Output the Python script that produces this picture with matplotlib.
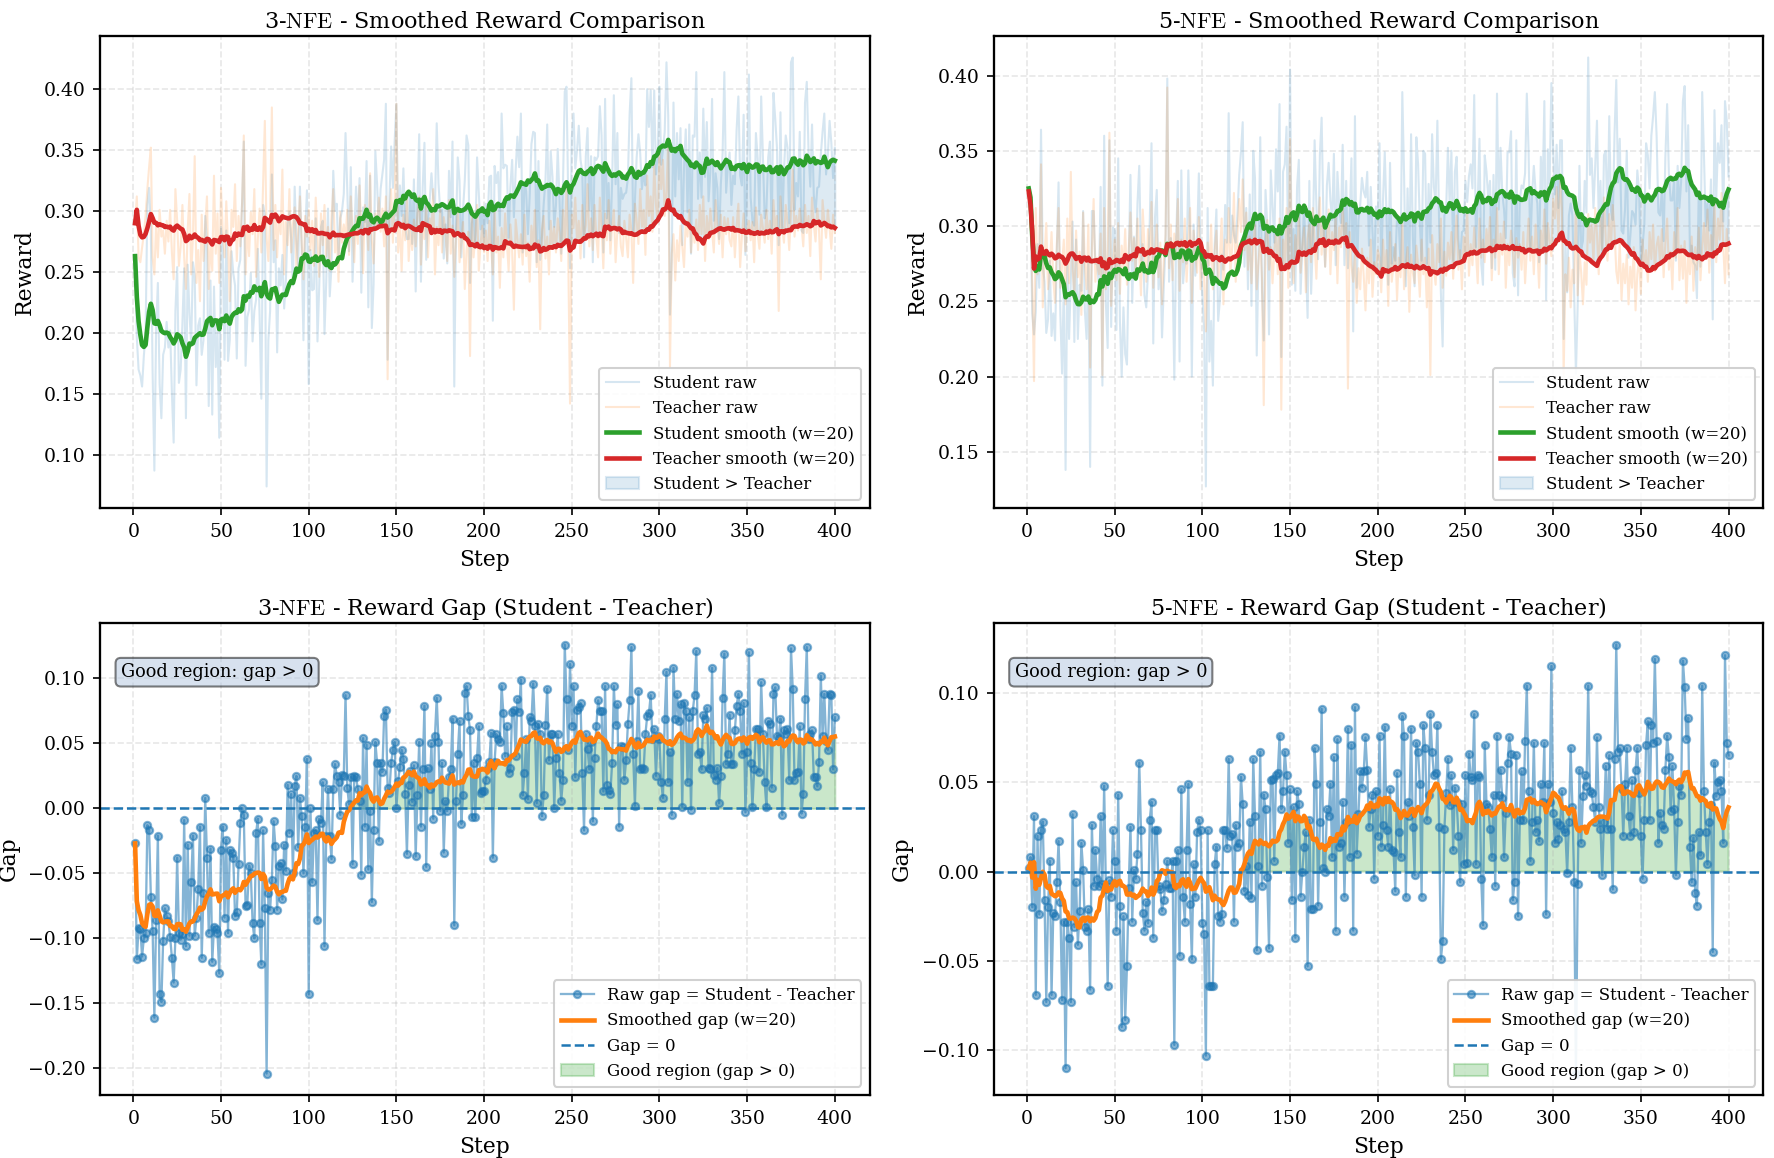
import numpy as np
import pandas as pd
import matplotlib
matplotlib.use("Agg")
import matplotlib.pyplot as plt

plt.rcParams["font.family"] = "serif"
plt.rcParams["mathtext.fontset"] = "cm"

WINDOW = 20

# raw teacher reward per step
teacher_3nfe = [
    0.290, 0.312, 0.262, 0.258, 0.270, 0.281, 0.296, 0.318, 0.336, 0.352, 0.262, 0.248, 0.289, 0.262, 0.301, 0.279, 0.284, 0.265, 0.292, 0.275,
    0.301, 0.266, 0.244, 0.318, 0.292, 0.255, 0.271, 0.305, 0.262, 0.236, 0.284, 0.314, 0.248, 0.279, 0.345, 0.241, 0.268, 0.226, 0.297, 0.259,
    0.288, 0.312, 0.236, 0.274, 0.251, 0.329, 0.265, 0.298, 0.241, 0.319, 0.283, 0.262, 0.308, 0.273, 0.226, 0.301, 0.287, 0.322, 0.259, 0.296,
    0.271, 0.306, 0.362, 0.248, 0.287, 0.263, 0.299, 0.281, 0.318, 0.246, 0.277, 0.302, 0.266, 0.322, 0.374, 0.278, 0.259, 0.296, 0.385, 0.268,
    0.305, 0.262, 0.297, 0.281, 0.334, 0.248, 0.291, 0.272, 0.318, 0.266, 0.289, 0.303, 0.251, 0.284, 0.312, 0.275, 0.244, 0.296, 0.279, 0.301,
    0.268, 0.292, 0.255, 0.311, 0.279, 0.246, 0.298, 0.272, 0.305, 0.263, 0.287, 0.251, 0.294, 0.318, 0.266, 0.281, 0.242, 0.299, 0.274, 0.289,
    0.277, 0.301, 0.264, 0.312, 0.285, 0.258, 0.296, 0.273, 0.321, 0.284, 0.249, 0.305, 0.292, 0.268, 0.331, 0.276, 0.257, 0.298, 0.287, 0.311,
    0.283, 0.302, 0.271, 0.312, 0.162, 0.295, 0.318, 0.274, 0.306, 0.388, 0.266, 0.289, 0.251, 0.297, 0.276, 0.312, 0.259, 0.284, 0.268, 0.293,
    0.271, 0.298, 0.312, 0.256, 0.289, 0.277, 0.305, 0.262, 0.294, 0.281, 0.318, 0.248, 0.287, 0.272, 0.301, 0.266, 0.295, 0.283, 0.259, 0.309,
    0.265, 0.288, 0.246, 0.279, 0.302, 0.258, 0.274, 0.291, 0.236, 0.268, 0.283, 0.181, 0.297, 0.262, 0.279, 0.305, 0.251, 0.273, 0.288, 0.266,
    0.284, 0.259, 0.292, 0.271, 0.248, 0.301, 0.266, 0.279, 0.237, 0.286, 0.262, 0.298, 0.274, 0.251, 0.289, 0.268, 0.219, 0.293, 0.277, 0.262,
    0.281, 0.256, 0.297, 0.263, 0.274, 0.242, 0.288, 0.269, 0.301, 0.254, 0.276, 0.203, 0.285, 0.296, 0.261, 0.279, 0.248, 0.292, 0.271, 0.287,
    0.266, 0.294, 0.283, 0.259, 0.301, 0.272, 0.318, 0.264, 0.142, 0.297, 0.286, 0.311, 0.274, 0.292, 0.261, 0.305, 0.279, 0.288, 0.322, 0.271,
    0.294, 0.268, 0.305, 0.279, 0.262, 0.311, 0.287, 0.253, 0.298, 0.276, 0.309, 0.265, 0.288, 0.301, 0.258, 0.284, 0.296, 0.271, 0.263, 0.292,
    0.278, 0.262, 0.297, 0.285, 0.241, 0.306, 0.292, 0.273, 0.318, 0.287, 0.301, 0.264, 0.329, 0.296, 0.312, 0.283, 0.338, 0.305, 0.291, 0.349,
    0.318, 0.342, 0.296, 0.317, 0.358, 0.172, 0.265, 0.281, 0.243, 0.276, 0.259, 0.288, 0.271, 0.254, 0.292, 0.279, 0.301, 0.266, 0.287, 0.274,
    0.293, 0.268, 0.305, 0.281, 0.312, 0.259, 0.296, 0.277, 0.302, 0.284, 0.266, 0.309, 0.288, 0.273, 0.297, 0.262, 0.295, 0.281, 0.294, 0.276,
    0.271, 0.295, 0.262, 0.288, 0.306, 0.254, 0.279, 0.298, 0.267, 0.285, 0.292, 0.276, 0.291, 0.258, 0.303, 0.282, 0.269, 0.297, 0.286, 0.274,
    0.301, 0.277, 0.292, 0.265, 0.309, 0.283, 0.296, 0.218, 0.312, 0.287, 0.274, 0.305, 0.291, 0.268, 0.299, 0.334, 0.279, 0.296, 0.284, 0.302,
    0.288, 0.271, 0.305, 0.282, 0.296, 0.263, 0.311, 0.289, 0.275, 0.302, 0.284, 0.244, 0.309, 0.292, 0.278, 0.301, 0.286, 0.269, 0.297, 0.282,
]

# raw gap (student - teacher) per step
gap_3nfe = [
    -0.027, -0.116, -0.092, -0.093, -0.114, -0.100, -0.096, -0.013, -0.017, -0.068, -0.094, -0.161, -0.086, -0.021, -0.143, -0.149, -0.102, -0.077, -0.083, -0.087,
    -0.099, -0.115, -0.134, -0.100, -0.038, -0.096, -0.101, -0.097, -0.009, -0.106, -0.028, -0.098, -0.057, -0.021, -0.098, -0.084, -0.062, -0.014, -0.115, -0.065,
    0.008, -0.038, -0.096, -0.031, -0.118, -0.091, -0.093, -0.096, -0.127, -0.032, -0.014, -0.084, -0.024, -0.096, -0.032, -0.034, -0.038, -0.083, -0.080, -0.043,
    -0.011, 0.000, -0.005, -0.075, -0.074, -0.044, -0.050, -0.088, -0.100, -0.019, -0.008, -0.088, -0.120, -0.017, -0.077, -0.204, -0.065, -0.078, -0.055, -0.010,
    -0.029, -0.078, -0.044, -0.042, -0.070, -0.028, -0.048, 0.018, -0.019, 0.011, -0.050, 0.017, 0.025, -0.030, 0.008, -0.006, -0.050, -0.014, 0.038, -0.143,
    0.000, -0.057, -0.019, -0.017, -0.086, -0.008, -0.011, 0.020, -0.106, -0.021, 0.015, -0.021, -0.039, 0.015, 0.034, 0.025, 0.020, -0.005, 0.026, 0.025,
    0.087, 0.016, 0.003, 0.024, -0.043, 0.025, 0.024, 0.015, 0.006, -0.051, 0.054, -0.014, 0.049,
    -0.047, -0.002, -0.072, -0.017, 0.051, 0.035, -0.025, 0.035, 0.028, 0.071, 0.076, 0.016, 0.012, 0.035, 0.045, 0.051, 0.000, 0.021, 0.032, 0.045,
    0.038, 0.011, -0.035, 0.018, 0.029, 0.005, 0.033, -0.037, 0.010, 0.051, -0.014, 0.030, 0.079, -0.045, 0.031, 0.015, 0.050, -0.008, 0.056, 0.085,
    0.051, -0.002, 0.035, -0.034, 0.006, -0.002, 0.024, 0.030, 0.069, -0.090, 0.006, 0.042, 0.067, -0.012, 0.010, 0.089, 0.094, 0.071, 0.060, -0.007,
    0.035, -0.007, 0.039, 0.063, 0.012, 0.013, 0.013, 0.022, 0.031, 0.036, 0.058, -0.038, 0.036, 0.057, 0.053, 0.051, 0.094, 0.073, 0.040, 0.063,
    0.027, 0.031, 0.074, 0.076, 0.040, 0.084, 0.074, 0.099, 0.010, 0.027, 0.053, 0.007, 0.070, 0.067, 0.096, 0.063, 0.004, 0.065, 0.057, -0.006,
    0.010, 0.064, 0.092, 0.037, 0.057, 0.057, 0.000, 0.039, 0.057, 0.027, 0.006, 0.022, 0.126, 0.084, 0.045, 0.111, 0.063, 0.094, 0.024, 0.076,
    0.078, 0.081, 0.027, -0.017, 0.057, 0.046, 0.030, 0.051, -0.010, 0.039, 0.063, 0.083, 0.075, 0.075, 0.013, 0.094,
    0.018, 0.014, 0.011, 0.035, 0.094, 0.064, 0.080, -0.014, 0.048, 0.047, 0.022, 0.037, 0.065, 0.083, 0.124, 0.042, 0.002, 0.052, 0.090, 0.030,
    0.031, 0.030, 0.057, 0.071, 0.073, 0.087, 0.053, 0.061, 0.025, 0.056, 0.053, 0.020, 0.008, 0.069, 0.105, 0.020, 0.043, -0.005, 0.108, 0.069,
    0.088, 0.067, 0.080, 0.001, 0.081, 0.075, 0.020, 0.070, -0.001, 0.075, 0.087, 0.121, 0.042, 0.043, 0.030, 0.072, 0.069, 0.077, 0.031, 0.030,
    0.108, 0.026, 0.022, 0.031, 0.004, 0.025, 0.085, 0.119, 0.034, 0.042, 0.072, 0.034, 0.034, 0.060, 0.079, 0.088, 0.075, 0.042, 0.081, -0.003,
    0.043, 0.120, 0.035, 0.001, 0.030, 0.061, 0.061, 0.028, 0.097, 0.057, 0.020, 0.001, 0.067, 0.065, 0.016, 0.088, 0.093, 0.056, 0.054, 0.069,
    -0.005, 0.060, 0.057, 0.061, 0.022, 0.123, 0.092, 0.022, 0.027, 0.028, 0.063, -0.004, 0.011, 0.084, 0.124, 0.053, 0.057, 0.060, 0.024, 0.024,
    0.017, 0.036, 0.102, 0.056, 0.088, 0.052, 0.045, 0.088, 0.087, 0.030, 0.070,
]

teacher_5nfe = [
    0.323, 0.305, 0.262, 0.197, 0.312, 0.268, 0.283, 0.341, 0.246, 0.279, 0.302, 0.258, 0.271, 0.296, 0.265, 0.249, 0.288, 0.312, 0.259, 0.274,
    0.291, 0.248, 0.305, 0.262, 0.336, 0.271, 0.254, 0.297, 0.266, 0.283, 0.241, 0.309, 0.275, 0.258, 0.301, 0.206, 0.284, 0.318, 0.263, 0.279,
    0.268, 0.295, 0.201, 0.312, 0.258, 0.283, 0.362, 0.247, 0.276, 0.291, 0.264, 0.302, 0.255, 0.287, 0.271, 0.298, 0.261, 0.284, 0.309, 0.277,
    0.292, 0.268, 0.305, 0.279, 0.254, 0.311, 0.287, 0.263, 0.298, 0.274, 0.316, 0.259, 0.283, 0.301, 0.266, 0.289, 0.248, 0.276, 0.294, 0.392,
    0.272, 0.301, 0.264, 0.295, 0.282, 0.318, 0.257, 0.291, 0.276, 0.305, 0.263, 0.288, 0.312, 0.249, 0.297, 0.281, 0.269, 0.306, 0.258, 0.284,
    0.266, 0.230, 0.289, 0.274, 0.301, 0.258, 0.283, 0.297, 0.262, 0.279, 0.305, 0.248, 0.291, 0.276, 0.312, 0.269, 0.286, 0.322, 0.263, 0.294,
    0.318, 0.296, 0.331, 0.284, 0.309, 0.271, 0.293, 0.262, 0.287, 0.301, 0.258, 0.276, 0.292, 0.265, 0.181, 0.289, 0.304, 0.271, 0.286, 0.262,
    0.283, 0.297, 0.268, 0.305, 0.178, 0.291, 0.274, 0.312, 0.259, 0.358, 0.277, 0.262, 0.294, 0.281, 0.306, 0.269, 0.287, 0.299, 0.256, 0.292,
    0.301, 0.276, 0.312, 0.288, 0.265, 0.297, 0.319, 0.281, 0.304, 0.273, 0.292, 0.311, 0.268, 0.296, 0.284, 0.307, 0.262, 0.299, 0.286, 0.315,
    0.288, 0.302, 0.192, 0.296, 0.274, 0.263, 0.281, 0.249, 0.272, 0.258, 0.285, 0.267, 0.244, 0.279, 0.262, 0.291, 0.253, 0.276, 0.268, 0.284,
    0.279, 0.256, 0.291, 0.268, 0.284, 0.247, 0.296, 0.263, 0.275, 0.288, 0.251, 0.279, 0.266, 0.302, 0.258, 0.274, 0.286, 0.243, 0.281, 0.269,
    0.262, 0.287, 0.274, 0.253, 0.291, 0.268, 0.279, 0.246, 0.285, 0.201, 0.294, 0.272, 0.261, 0.288, 0.276, 0.305, 0.259, 0.283, 0.267, 0.289,
    0.278, 0.296, 0.265, 0.289, 0.307, 0.271, 0.284, 0.258, 0.293, 0.276, 0.311, 0.267, 0.288, 0.274, 0.299, 0.282, 0.262, 0.305, 0.279, 0.291,
    0.276, 0.298, 0.283, 0.306, 0.264, 0.291, 0.279, 0.312, 0.268, 0.295, 0.281, 0.303, 0.259, 0.288, 0.274, 0.297, 0.285, 0.266, 0.292, 0.279,
    0.288, 0.271, 0.296, 0.262, 0.284, 0.305, 0.277, 0.293, 0.268, 0.301, 0.286, 0.259, 0.297, 0.282, 0.311, 0.275, 0.302, 0.289, 0.280, 0.318,
    0.305, 0.326, 0.294, 0.331, 0.312, 0.201, 0.268, 0.257, 0.279, 0.246, 0.271, 0.262, 0.315, 0.254, 0.283, 0.269, 0.248, 0.276, 0.261, 0.308,
    0.289, 0.301, 0.276, 0.312, 0.295, 0.268, 0.306, 0.284, 0.319, 0.291, 0.277, 0.308, 0.286, 0.314, 0.298, 0.270, 0.262, 0.289, 0.251, 0.275,
    0.262, 0.281, 0.248, 0.273, 0.259, 0.286, 0.244, 0.268, 0.279, 0.255, 0.291, 0.272, 0.284, 0.263, 0.296, 0.278, 0.301, 0.270, 0.287, 0.293,
    0.274, 0.298, 0.266, 0.289, 0.305, 0.271, 0.283, 0.258, 0.296, 0.279, 0.312, 0.264, 0.287, 0.265, 0.290, 0.249, 0.281, 0.268, 0.293, 0.257,
    0.286, 0.271, 0.299, 0.264, 0.285, 0.302, 0.278, 0.311, 0.269, 0.294, 0.283, 0.316, 0.276, 0.305, 0.291, 0.322, 0.287, 0.262, 0.298, 0.268,
]

gap_5nfe = [
    0.002, 0.008, -0.020, 0.031, -0.069, 0.020, -0.024, 0.023, 0.028, -0.016, -0.073, -0.020, 0.006, -0.069, -0.023, -0.025, -0.006, 0.017, -0.017, -0.072,
    -0.028, -0.110, -0.028, -0.037, -0.073, 0.032, -0.031, -0.006, -0.041, -0.022, 0.016, 0.001, -0.031, -0.033, -0.021, -0.066, 0.026, -0.008, 0.012, -0.004,
    -0.008, 0.031, -0.007, 0.048, -0.010, -0.064, -0.005, -0.014, 0.023, 0.006, -0.033, 0.043, -0.019, -0.087, -0.025, -0.083, -0.053, -0.009, 0.025, -0.028,
    0.001, -0.004, 0.010, 0.061, 0.023, -0.023, -0.033, -0.017, -0.029, 0.029, 0.039, -0.037, 0.023, 0.023, -0.008, -0.010, -0.022, -0.016, -0.007, 0.006,
    -0.009, -0.009, 0.006, -0.097, 0.006, 0.012, -0.047, 0.046, -0.014, -0.028, 0.012, 0.049, -0.018, -0.049, 0.004, -0.014, 0.022, 0.029, 0.023, -0.029,
    -0.035, -0.103, 0.023, -0.064, -0.064, -0.064, 0.004, 0.014, -0.025, -0.028, -0.024, 0.023, 0.023, 0.013, 0.063, 0.020, 0.021, -0.028, 0.026, 0.014,
    0.016, 0.053, 0.038, -0.011, 0.003, -0.013, 0.028, -0.015,
    0.063, 0.031, -0.044, 0.003, 0.067, -0.008, 0.043, 0.035, -0.003, -0.043, 0.051, 0.052, 0.006, 0.054, 0.055, 0.076, 0.035, 0.045, 0.067, 0.054,
    0.016, 0.046, -0.016, 0.036, -0.037, 0.045, 0.038, -0.014, 0.000, 0.014, 0.022, -0.053, 0.029, -0.021, -0.021, 0.069, 0.049, -0.019, 0.028, 0.091,
    0.002, 0.000, 0.035, 0.031, 0.049, 0.008, 0.064, -0.033, 0.074, 0.014, 0.016, 0.039, -0.014, 0.028, 0.080, 0.008, 0.071, -0.033, 0.092, 0.010,
    0.032, 0.056, 0.047, 0.056, 0.075, 0.057, 0.025, 0.035, 0.043, -0.004, 0.045, 0.020, 0.076, 0.014, 0.026, 0.081, 0.023, 0.014, 0.046, 0.012,
    0.011, -0.011, 0.055, 0.022, 0.008, 0.087, 0.076, -0.014, 0.039, 0.031, 0.080, 0.025, -0.002, 0.072, 0.067, 0.049, -0.014, 0.082, 0.069, 0.029,
    0.043, 0.088, 0.067, 0.054, 0.055, 0.082, 0.025, -0.049, -0.039, 0.024, 0.044, 0.063, 0.037, 0.054, 0.012, 0.047, 0.039, 0.020, -0.006, 0.038,
    0.004, 0.054, 0.005, 0.066, 0.053, 0.051, 0.088, 0.004, 0.054, 0.053, -0.004, -0.030, 0.071, 0.038, 0.036, 0.024, 0.008, 0.043,
    -0.008, 0.076, 0.043, 0.057, 0.041, 0.008, 0.033, 0.061, 0.075, 0.066, -0.016, -0.006, 0.065, -0.025, 0.029, 0.056, 0.029, 0.073, 0.104, 0.045,
    0.006, 0.028, 0.072, 0.022, 0.029, 0.017, 0.049, 0.039, 0.072, -0.024, 0.049, 0.039, 0.115, 0.033, 0.016, 0.028, 0.018, 0.026, 0.045, 0.024,
    0.022, -0.001, 0.028, 0.069, 0.036, -0.006, -0.113, -0.007, 0.057, 0.016, 0.042, 0.054, 0.048, 0.104, 0.045, 0.044, 0.036, 0.028, 0.075, 0.036,
    0.024, -0.002, 0.028, 0.059, 0.024, 0.065, 0.024, -0.010, 0.063, 0.127, 0.067, 0.069, 0.046, 0.020, 0.049, 0.069, 0.031, 0.020, 0.051, 0.022,
    0.057, 0.069, 0.044, 0.020, -0.004, 0.029, 0.071, 0.084, 0.029, 0.082, 0.072, 0.119, 0.073, 0.016, 0.033, 0.026, 0.024, 0.057, 0.076, 0.064,
    0.034, 0.059, 0.035, -0.002, 0.028, 0.048, 0.043, 0.118, 0.103, 0.074, 0.086, 0.014, -0.006, 0.019, -0.012, -0.019, 0.022, 0.009, 0.104, 0.045,
    0.022, 0.004, 0.028, 0.037, -0.045, 0.061, 0.042, 0.050, 0.051, 0.045, 0.016, 0.121, 0.072, 0.065,
]

runs = [("3", teacher_3nfe, gap_3nfe), ("5", teacher_5nfe, gap_5nfe)]

fig, axes = plt.subplots(2, 2, figsize=(11.83, 7.72), dpi=150)
fig.subplots_adjust(left=0.0564, right=0.9938, top=0.9689, bottom=0.0544, wspace=0.161, hspace=0.244)

for col, (nfe, teacher, gap) in enumerate(runs):
    teacher = np.array(teacher)
    gap = np.array(gap)
    student = teacher + gap
    steps = np.arange(1, len(gap) + 1)

    s_smooth = pd.Series(student).rolling(WINDOW, min_periods=1).mean().values
    t_smooth = pd.Series(teacher).rolling(WINDOW, min_periods=1).mean().values
    g_smooth = pd.Series(gap).rolling(WINDOW, min_periods=1).mean().values

    ### reward comparison
    ax = axes[0, col]
    ax.plot(steps, student, color="tab:blue", alpha=0.18, lw=1, label="Student raw")
    ax.plot(steps, teacher, color="tab:orange", alpha=0.18, lw=1, label="Teacher raw")
    ax.plot(steps, s_smooth, color="tab:green", lw=2.2, label=f"Student smooth (w={WINDOW})")
    ax.plot(steps, t_smooth, color="tab:red", lw=2.2, label=f"Teacher smooth (w={WINDOW})")
    ax.fill_between(steps, s_smooth, t_smooth, where=s_smooth > t_smooth,
                    color="tab:blue", alpha=0.15, label="Student > Teacher")
    ax.set_title(f"{nfe}-$\\mathrm{{NFE}}$ - Smoothed Reward Comparison", fontsize=10.7, pad=4)
    ax.set_xlabel("Step", fontsize=10.5)
    ax.set_ylabel("Reward", fontsize=10.5)
    ax.grid(True, linestyle="--", alpha=0.3)
    ax.legend(loc="lower right", fontsize=8, framealpha=0.9)

    ### reward gap
    ax = axes[1, col]
    ax.plot(steps, gap, color="tab:blue", marker="o", ms=3.5, lw=1.1, alpha=0.55,
            label="Raw gap = Student - Teacher")
    ax.plot(steps, g_smooth, color="tab:orange", lw=2.2, label=f"Smoothed gap (w={WINDOW})")
    ax.axhline(0, color="tab:blue", linestyle="--", lw=1.2, label="Gap = 0")
    ax.fill_between(steps, 0, g_smooth, where=g_smooth > 0, color="tab:green", alpha=0.25,
                    label="Good region (gap > 0)")
    ax.text(0.027, 0.915, "Good region: gap > 0", transform=ax.transAxes, fontsize=8.5, va="top",
            bbox=dict(boxstyle="round", facecolor="lightsteelblue", alpha=0.5))
    ax.set_title(f"{nfe}-$\\mathrm{{NFE}}$ - Reward Gap (Student - Teacher)", fontsize=10.7, pad=4)
    ax.set_xlabel("Step", fontsize=10.5)
    ax.set_ylabel("Gap", fontsize=10.5)
    ax.grid(True, linestyle="--", alpha=0.3)
    ax.legend(loc="lower right", fontsize=8, framealpha=0.9)

for ax in axes.flat:
    ax.tick_params(labelsize=9)
    for sp in ax.spines.values():
        sp.set_linewidth(1.1)

fig.savefig("out.png", dpi=150)
